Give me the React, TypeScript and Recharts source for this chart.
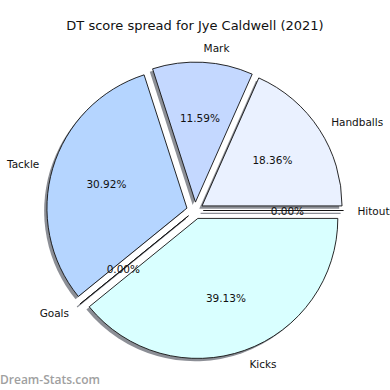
import { Cell, Pie, PieChart, Sector } from "recharts";

const categories = ["Handballs", "Mark", "Tackle", "Goals", "Kicks", "Hitouts"];
const scores = [38, 24, 64, 0, 81, 0];
const colors = ["#eaf1ff", "#c4d8ff", "#b5d5ff", "#c8e3ff", "#d9ffff", "#e0eeff"];

const data = categories.map((name, i) => ({ name, value: scores[i] }));

const RAD = Math.PI / 180;
const EXPLODE = 8.4;
const SHADOW_X = -2.8;
const SHADOW_Y = 2.8;
const FONT = "'DejaVu Sans', sans-serif";

function ExplodedSlice(props: any) {
  const { cx, cy, outerRadius, startAngle, endAngle, midAngle, fill } = props;
  const dx = EXPLODE * Math.cos(midAngle * RAD);
  const dy = -EXPLODE * Math.sin(midAngle * RAD);

  if (startAngle === endAngle) {
    // zero-size wedge: matplotlib still draws it as a line
    const ex = cx + outerRadius * Math.cos(startAngle * RAD);
    const ey = cy - outerRadius * Math.sin(startAngle * RAD);
    const d = `M${cx},${cy}L${ex},${ey}Z`;
    return (
      <g transform={`translate(${dx},${dy})`}>
        <path d={d} transform={`translate(${SHADOW_X},${SHADOW_Y})`} stroke="#8c8f96" strokeWidth={1.2} fill="none" />
        <path d={d} stroke="#111" strokeWidth={0.9} fill="none" />
      </g>
    );
  }

  return (
    <g transform={`translate(${dx},${dy})`}>
      <g transform={`translate(${SHADOW_X},${SHADOW_Y})`}>
        <Sector cx={cx} cy={cy} innerRadius={0} outerRadius={outerRadius}
          startAngle={startAngle} endAngle={endAngle} fill="#8c8f96" stroke="none" />
      </g>
      <Sector cx={cx} cy={cy} innerRadius={0} outerRadius={outerRadius}
        startAngle={startAngle} endAngle={endAngle} fill={fill} stroke="#111" strokeWidth={0.9} />
    </g>
  );
}

function SliceLabel(props: any) {
  const { cx, cy, midAngle, outerRadius, percent, name } = props;
  const cos = Math.cos(midAngle * RAD);
  const sin = Math.sin(midAngle * RAD);
  const lr = outerRadius * 1.1 + EXPLODE;
  const pr = outerRadius * 0.6 + EXPLODE;
  return (
    <g>
      <text x={cx + lr * cos} y={cy - lr * sin} textAnchor={cos > 0 ? "start" : "end"}
        dominantBaseline="central" fontSize={10.5} fontFamily={FONT} fill="#111">
        {name}
      </text>
      <text x={cx + pr * cos} y={cy - pr * sin} textAnchor="middle"
        dominantBaseline="central" fontSize={10.5} fontFamily={FONT} fill="#111">
        {(percent * 100).toFixed(2)}%
      </text>
    </g>
  );
}

export default function App() {
  return (
    <div style={{ position: "absolute", left: 0, top: 0, width: 390, height: 390, background: "#fff", overflow: "hidden" }}>
      <div style={{ position: "absolute", top: 18, left: 0, width: 390, textAlign: "center", fontFamily: FONT, fontSize: 13, color: "#111" }}>
        DT score spread for Jye Caldwell (2021)
      </div>
      <PieChart width={390} height={390} margin={{ top: 0, right: 0, bottom: 0, left: 0 }}
        style={{ position: "absolute", left: 0, top: 0 }}>
        <Pie data={data} dataKey="value" nameKey="name" cx={195} cy={210.5} innerRadius={0} outerRadius={140}
          startAngle={0} endAngle={360} shape={ExplodedSlice} label={SliceLabel} labelLine={false}
          isAnimationActive={false}>
          {data.map((d, i) => (
            <Cell key={d.name} fill={colors[i]} />
          ))}
        </Pie>
      </PieChart>
      <div style={{ position: "absolute", left: 0, top: 371, fontFamily: "'Open Sans', sans-serif", fontWeight: 600, fontSize: 12, color: "#a0a0a0" }}>
        Dream-Stats.com
      </div>
    </div>
  );
}
